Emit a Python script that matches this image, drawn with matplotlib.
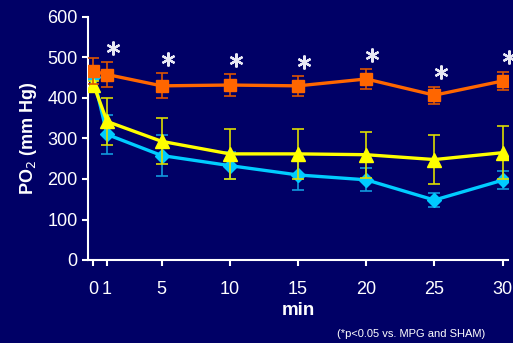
import matplotlib
matplotlib.use("Agg")
import matplotlib.pyplot as plt

# time points (min)
minutes = [0, 1, 5, 10, 15, 20, 25, 30]

# orange squares (group with significance stars)
orange_mean = [466, 458, 430, 432, 430, 447, 407, 442]
orange_err = [32, 30, 31, 28, 25, 24, 21, 23]

# yellow triangles
yellow_mean = [433, 342, 293, 262, 262, 260, 248, 265]
yellow_err = [10, 58, 57, 61, 61, 57, 60, 66]

# cyan diamonds
cyan_mean = [452, 310, 258, 233, 210, 198, 148, 197]
cyan_err = [8, 48, 50, 33, 37, 28, 18, 22]

# minutes that carry a "*" above the orange series
star_minutes = [1, 5, 10, 15, 20, 25, 30]

xticks = [0, 1, 5, 10, 15, 20, 25, 30]
yticks = [0, 100, 200, 300, 400, 500, 600]

BG = "#000066"
ORANGE = "#FF6600"
YELLOW = "#FFFF00"
CYAN = "#00CCFF"

plt.rcParams["font.family"] = ["Liberation Sans", "DejaVu Sans"]

fig = plt.figure(figsize=(5.13, 3.43), dpi=100, facecolor=BG)
ax = fig.add_axes([88 / 513, 83 / 343, 420 / 513, 243 / 343], facecolor=BG)

ax.errorbar(minutes, cyan_mean, yerr=cyan_err, color=CYAN, ecolor="#1199DD", lw=2.4,
            marker="D", ms=7, capsize=4, elinewidth=1.2, capthick=1.2, zorder=3)
ax.errorbar(minutes, yellow_mean, yerr=yellow_err, color=YELLOW, ecolor="#DDDD00", lw=2.4,
            marker="^", ms=10, capsize=4, elinewidth=1.2, capthick=1.2, zorder=4)
ax.errorbar(minutes, orange_mean, yerr=orange_err, color=ORANGE, ecolor="#DD5500", lw=2.4,
            marker="s", ms=8.5, capsize=4, elinewidth=1.2, capthick=1.2, zorder=5)

# significance asterisks (6-pointed) above the orange error bars
sx = [m + 0.45 for m in star_minutes]
sy = [orange_mean[minutes.index(m)] + orange_err[minutes.index(m)] + 35 for m in star_minutes]
ax.plot(sx, sy, linestyle="none", marker=(6, 2, 0), ms=10, mew=1.6,
        color="#E8E8F4", zorder=6, clip_on=False)

ax.set_xlim(-0.4, 30.4)
ax.set_ylim(0, 600)
ax.set_xticks(xticks)
ax.set_yticks(yticks)

for s in ["top", "right"]:
    ax.spines[s].set_visible(False)
for s in ["left", "bottom"]:
    ax.spines[s].set_color("white")
    ax.spines[s].set_linewidth(1.5)
ax.tick_params(colors="white", labelsize=13, width=1.5, length=4)
ax.tick_params(axis="x", pad=11)

ax.set_ylabel("PO$_2$ (mm Hg)", color="white", fontsize=13, fontweight="bold", labelpad=6)
ax.set_xlabel("min", color="white", fontsize=13.5, fontweight="bold", labelpad=3)

fig.text(0.657, 0.018, "(*p<0.05 vs. MPG and SHAM)", color="white", fontsize=8)

fig.savefig("out.png", dpi=100, facecolor=BG)
